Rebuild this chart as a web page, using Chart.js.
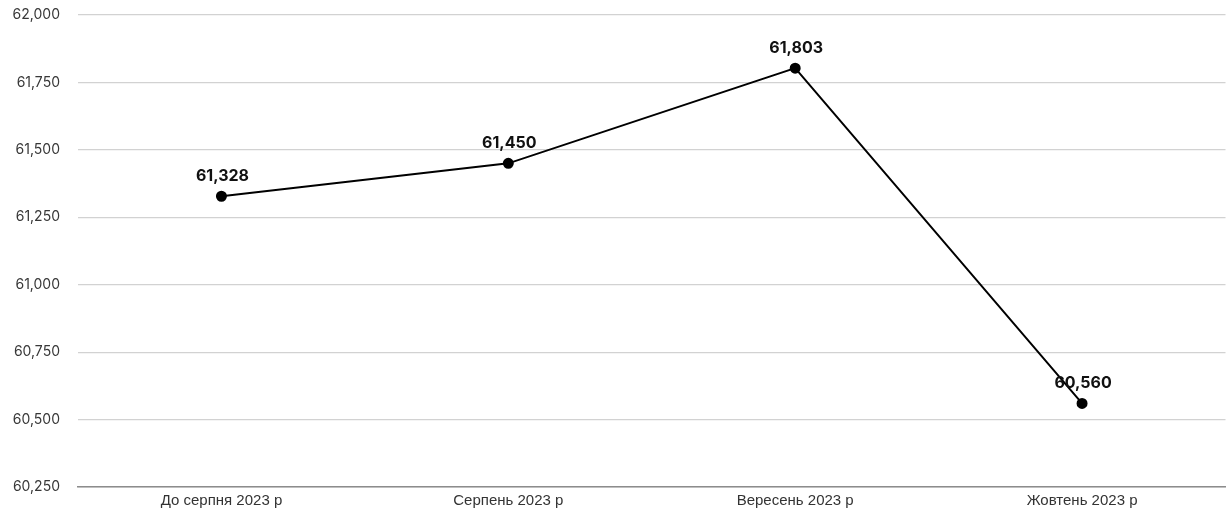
<!DOCTYPE html>
<html>
<head>
<meta charset="utf-8">
<script src="https://cdn.jsdelivr.net/npm/chart.js@4.4.1/dist/chart.umd.min.js"></script>
<style>
  html, body { margin: 0; padding: 0; background: #ffffff; overflow: hidden; }
  #wrap { width: 1229px; height: 519px; position: relative; overflow: hidden; }
  canvas { display: block; }
</style>
</head>
<body>
<div id="wrap"><canvas id="c" width="1232" height="519"></canvas></div>
<script>
const categories = ["До серпня 2023 р", "Серпень 2023 р", "Вересень 2023 р", "Жовтень 2023 р"];
const values = [61328, 61450, 61803, 60560];
const yMin = 60250;
const yMax = 62000;
const yStep = 250;

const fmt = v => v.toLocaleString('en-US');

const labelPlugin = {
  id: 'pointLabels',
  afterDatasetsDraw(chart) {
    const ctx = chart.ctx;
    const meta = chart.getDatasetMeta(0);
    ctx.save();
    ctx.font = 'bold 16px Inter, "Noto Sans", sans-serif';
    ctx.fillStyle = '#111111';
    ctx.textAlign = 'center';
    ctx.textBaseline = 'middle';
    meta.data.forEach((pt, i) => {
      ctx.fillText(fmt(chart.data.datasets[0].data[i]), pt.x + 1, pt.y - 20);
    });
    ctx.restore();
  }
};

new Chart(document.getElementById('c'), {
  type: 'line',
  data: {
    labels: categories,
    datasets: [{
      data: values,
      borderColor: '#000000',
      backgroundColor: '#000000',
      borderWidth: 2,
      pointRadius: 4.5,
      pointHoverRadius: 4.5,
      pointBackgroundColor: '#000000',
      pointBorderColor: '#000000',
      tension: 0,
      fill: false
    }]
  },
  options: {
    responsive: false,
    animation: false,
    devicePixelRatio: 1,
    layout: { padding: { top: 15, right: 2, left: 0, bottom: 0 } },
    plugins: {
      legend: { display: false },
      tooltip: { enabled: false }
    },
    scales: {
      x: {
        offset: true,
        grid: { display: false, drawTicks: false },
        border: { display: true, color: '#8c8c8c', width: 1.5 },
        ticks: {
          padding: 5,
          color: '#333333',
          font: { family: '"Liberation Sans", Arial, sans-serif', size: 15 }
        },
        afterFit(scale) {
          scale.height = 32;
          scale.paddingLeft = 0;
          scale.paddingRight = 0;
        }
      },
      y: {
        min: yMin,
        max: yMax,
        grid: { color: '#d2d2d2', lineWidth: 1.2, drawTicks: false },
        border: { display: false },
        ticks: {
          stepSize: yStep,
          padding: 18,
          color: '#383838',
          font: { family: 'Inter, "Noto Sans", sans-serif', size: 14 },
          callback: v => fmt(v)
        },
        afterFit(scale) {
          scale.width = 78;
          scale.paddingTop = 0;
          scale.paddingBottom = 0;
        }
      }
    }
  },
  plugins: [labelPlugin]
});
</script>
</body>
</html>
